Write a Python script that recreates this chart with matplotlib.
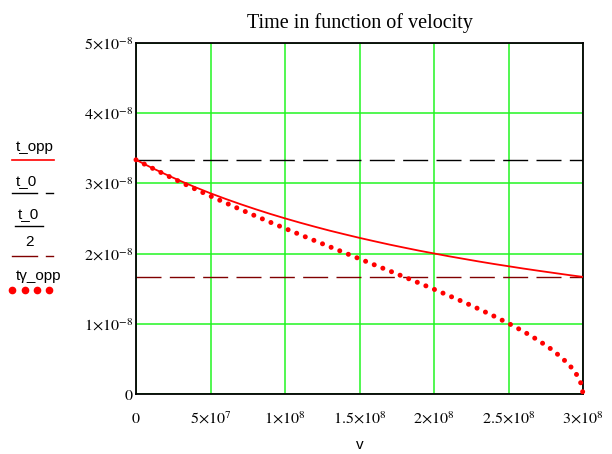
import matplotlib
matplotlib.use('Agg')
import matplotlib.pyplot as plt
from matplotlib.lines import Line2D

plt.rcParams['mathtext.fontset'] = 'stix'

# --- datos (v en 1e7 m/s, tiempos en 1e-8 s) ---
v_opp = [0, 1, 2, 3, 4, 5, 6, 7, 8, 9, 10, 11, 12, 13, 14, 15,
         16, 17, 18, 19, 20, 21, 22, 23, 24, 25, 26, 27, 28, 29, 30]
t_opp = [3.336, 3.228, 3.128, 3.033, 2.944, 2.859, 2.780, 2.705, 2.634, 2.566,
         2.502, 2.441, 2.383, 2.327, 2.275, 2.224, 2.176, 2.129, 2.085, 2.042,
         2.002, 1.962, 1.925, 1.888, 1.853, 1.820, 1.787, 1.756, 1.726, 1.696,
         1.668]

v_gam = [0, 1, 2, 3, 4, 5, 6, 7, 8, 9, 10, 11, 12, 13, 14, 15,
         16, 17, 18, 19, 20, 21, 22, 23, 24, 25, 26, 27, 28, 29, 29.5, 29.9, 30]
tgam_opp = [3.336, 3.227, 3.121, 3.018, 2.917, 2.819, 2.724, 2.630, 2.538, 2.448,
            2.359, 2.271, 2.184, 2.098, 2.012, 1.926, 1.840, 1.755, 1.668, 1.581,
            1.492, 1.401, 1.309, 1.212, 1.112, 1.006, 0.892, 0.765, 0.620, 0.434,
            0.306, 0.136, 0.0]

t_0 = 3.336

x_ticks = [0, 5, 10, 15, 20, 25, 30]
x_labels = [r'$0$', r'$5{\times}10^{7}$', r'$1{\times}10^{8}$', r'$1.5{\times}10^{8}$',
            r'$2{\times}10^{8}$', r'$2.5{\times}10^{8}$', r'$3{\times}10^{8}$']
y_ticks = [0, 1, 2, 3, 4, 5]
y_labels = [r'$0$', r'$1{\times}10^{-8}$', r'$2{\times}10^{-8}$', r'$3{\times}10^{-8}$',
            r'$4{\times}10^{-8}$', r'$5{\times}10^{-8}$']

W, H = 612, 454
fig = plt.figure(figsize=(W / 100, H / 100), dpi=100)
ax = fig.add_axes([136 / W, 1 - 394 / H, (583 - 136) / W, (394 - 43) / H])

v1 = [v * 1e7 for v in v_opp]
v2 = [v * 1e7 for v in v_gam]
ax.axhline(t_0 * 1e-8, color='black', lw=1.0, dashes=(18, 6), zorder=2)
ax.axhline(t_0 / 2 * 1e-8, color='#800000', lw=1.0, dashes=(18, 6), zorder=2)
ax.plot(v1, [t * 1e-8 for t in t_opp], color='red', lw=1.3, zorder=3)
ax.plot(v2, [t * 1e-8 for t in tgam_opp], color='red', lw=3.6,
        linestyle=(0, (0.01, 1.85)), dash_capstyle='round', zorder=4, clip_on=False)

ax.set_xlim(0, 3e8)
ax.set_ylim(0, 5e-8)
ax.set_xticks([x * 1e7 for x in x_ticks])
ax.set_xticklabels(x_labels, fontsize=11.5)
ax.set_yticks([y * 1e-8 for y in y_ticks])
ax.set_yticklabels(y_labels, fontsize=11.5)
ax.tick_params(length=0, pad=12)
ax.tick_params(axis='y', pad=2)
ax.grid(True, color='#22f522', lw=1.1)
ax.set_axisbelow(True)
for s in ax.spines.values():
    s.set_linewidth(1.3)
    s.set_color('black')

ax.set_title('Time in function of velocity', fontsize=14.5, family='Liberation Serif', pad=11)
ax.set_xlabel('v', fontsize=11, family='Liberation Sans', labelpad=8)


# leyenda a la izquierda, al estilo Mathcad
def px(x, y):
    return x / W, 1 - y / H


def seg(x0, x1, y, color, lw=1.0, ls='-'):
    fig.add_artist(Line2D([x0 / W, x1 / W], [1 - y / H, 1 - y / H],
                          color=color, lw=lw, linestyle=ls, transform=fig.transFigure))


fs = 11
fig.text(*px(16, 147), 't_opp', fontsize=fs, family='Liberation Sans', va='center')
seg(12, 54, 160, 'red', lw=1.2)
fig.text(*px(16, 181), 't_0', fontsize=fs, family='Liberation Sans', va='center')
seg(12, 37, 193, 'black')
seg(46, 53, 193, 'black')
fig.text(*px(18, 214), 't_0', fontsize=fs, family='Liberation Sans', va='center')
seg(15, 43, 226, 'black')
fig.text(*px(29, 242), '2', fontsize=fs, family='Liberation Sans', va='center', ha='center')
seg(12, 37, 256, '#800000')
seg(46, 53, 256, '#800000')
fig.text(*px(16, 276), 'tγ_opp', fontsize=fs, family='Liberation Sans', va='center')
fig.add_artist(Line2D([12 / W, 25 / W, 37 / W, 49 / W], [1 - 290 / H] * 4,
                      color='red', marker='o', markersize=4.5, lw=0,
                      transform=fig.transFigure))

fig.savefig('out.png', dpi=100)
